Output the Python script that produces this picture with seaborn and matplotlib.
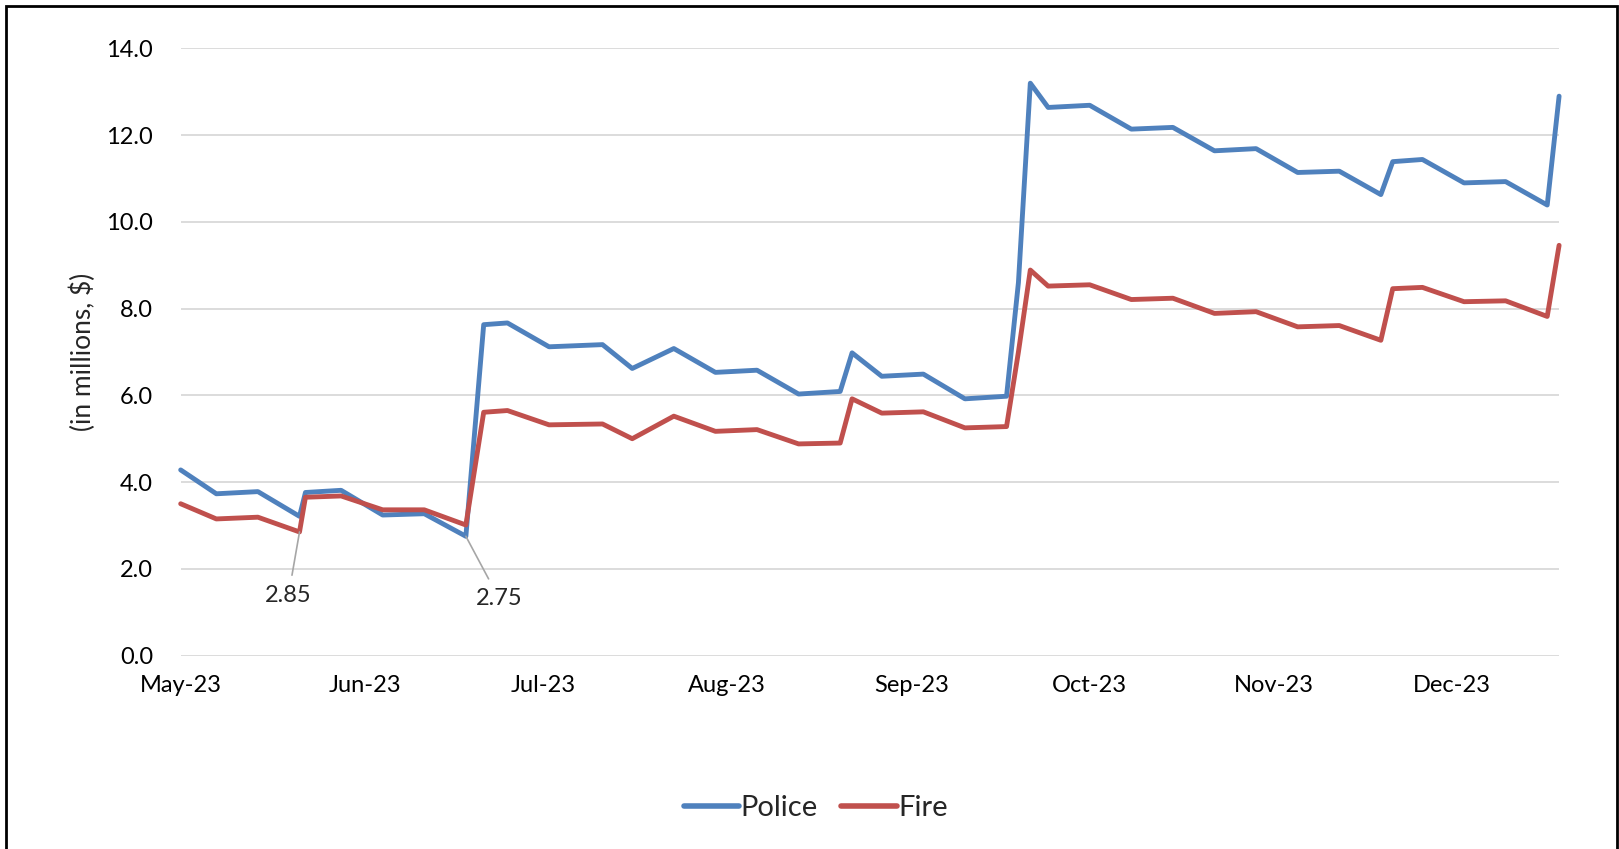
import pandas as pd
import matplotlib
matplotlib.use("Agg")
import matplotlib.pyplot as plt
import matplotlib.dates as mdates
from matplotlib.patches import Rectangle
import seaborn as sns

# Weekly (plus mid-week) values, in millions of $
dates = ["2023-05-01", "2023-05-07", "2023-05-14", "2023-05-21", "2023-05-22", "2023-05-28",
         "2023-06-04", "2023-06-11", "2023-06-18", "2023-06-21", "2023-06-25", "2023-07-02",
         "2023-07-11", "2023-07-16", "2023-07-23", "2023-07-30", "2023-08-06", "2023-08-13",
         "2023-08-20", "2023-08-22", "2023-08-27", "2023-09-03", "2023-09-10", "2023-09-17",
         "2023-09-19", "2023-09-21", "2023-09-24", "2023-10-01", "2023-10-08", "2023-10-15",
         "2023-10-22", "2023-10-29", "2023-11-05", "2023-11-12", "2023-11-19", "2023-11-21",
         "2023-11-26", "2023-12-03", "2023-12-10", "2023-12-17", "2023-12-19"]

police = [4.28, 3.73, 3.78, 3.21, 3.76, 3.81,
          3.24, 3.27, 2.75, 7.63, 7.67, 7.12,
          7.17, 6.62, 7.08, 6.53, 6.58, 6.03,
          6.09, 6.98, 6.44, 6.49, 5.92, 5.98,
          8.60, 13.20, 12.64, 12.69, 12.14, 12.18,
          11.64, 11.69, 11.14, 11.17, 10.63, 11.39,
          11.44, 10.90, 10.93, 10.39, 12.90]

fire = [3.50, 3.15, 3.19, 2.85, 3.65, 3.68,
        3.36, 3.36, 3.01, 5.61, 5.65, 5.32,
        5.34, 5.00, 5.52, 5.17, 5.21, 4.88,
        4.90, 5.92, 5.59, 5.62, 5.25, 5.28,
        7.00, 8.89, 8.52, 8.55, 8.21, 8.24,
        7.89, 7.93, 7.58, 7.61, 7.27, 8.46,
        8.49, 8.16, 8.18, 7.82, 9.46]

series_names = ["Police", "Fire"]
colors = ["#4F81BD", "#C0504D"]

# Build long-form table for seaborn
df = pd.DataFrame({"date": pd.to_datetime(dates), "Police": police, "Fire": fire})
long_df = df.melt(id_vars="date", var_name="dept", value_name="amount")

sns.set_style("white")
plt.rcParams["font.family"] = ["Lato", "DejaVu Sans"]

fig = plt.figure(figsize=(16.19, 8.49), dpi=100)
ax = fig.add_axes([0.1116, 0.2279, 0.8514, 0.715])

sns.lineplot(data=long_df, x="date", y="amount", hue="dept", hue_order=series_names,
             palette=colors, linewidth=3.5, ax=ax, legend=False,
             solid_capstyle="round", solid_joinstyle="round")
for line in ax.lines:
    line.set_clip_on(False)

# axes formatting
ax.set_ylim(0, 14)
ax.set_yticks([0, 2, 4, 6, 8, 10, 12, 14])
ax.yaxis.set_major_formatter(matplotlib.ticker.FormatStrFormatter("%.1f"))
ax.set_xlim(df["date"].min(), df["date"].max())
ax.set_xticks(pd.date_range("2023-05-01", "2023-12-01", freq="MS"))
ax.xaxis.set_major_formatter(mdates.DateFormatter("%b-%y"))
ax.grid(axis="y", color="#d9d9d9", linewidth=1.3)
ax.set_axisbelow(True)
for s in ax.spines.values():
    s.set_visible(False)
ax.tick_params(length=0, labelsize=17, colors="black")
ax.tick_params(axis="y", pad=20)
ax.tick_params(axis="x", pad=14)
ax.set_xlabel("")
ax.set_ylabel("(in millions, $)", fontsize=19, labelpad=7)

# callouts for the two lows
ax.annotate("2.85", xy=(pd.Timestamp("2023-05-21"), 2.85), xytext=(-8, -46),
            textcoords="offset points", ha="center", va="center", fontsize=17,
            arrowprops=dict(arrowstyle="-", color="#a6a6a6", lw=1.2, shrinkA=5, shrinkB=0))
ax.annotate("2.75", xy=(pd.Timestamp("2023-06-18"), 2.75), xytext=(24, -45),
            textcoords="offset points", ha="center", va="center", fontsize=17,
            arrowprops=dict(arrowstyle="-", color="#a6a6a6", lw=1.2, shrinkA=5, shrinkB=0))

# legend at the bottom
handles = [plt.Line2D([], [], color=c, lw=4, solid_capstyle="round") for c in colors]
fig.legend(handles, series_names, loc="center", bbox_to_anchor=(0.504, 1 - 808 / 849),
           ncol=2, frameon=False, fontsize=21, handlelength=1.9, handletextpad=0.05,
           columnspacing=0.8)

# outer frame of the chart
fig.add_artist(Rectangle((0.004, -0.1), 0.995, 1.093, transform=fig.transFigure,
                         fill=False, edgecolor="black", linewidth=2))

fig.savefig("out.png", dpi=100)
